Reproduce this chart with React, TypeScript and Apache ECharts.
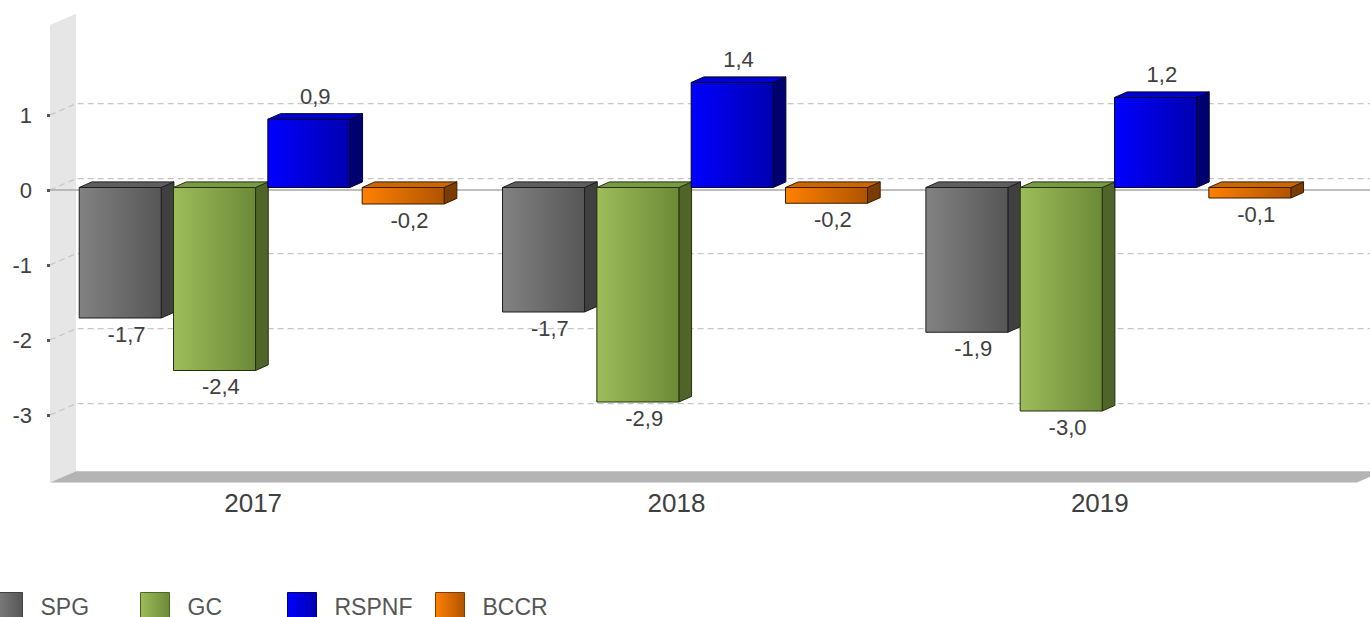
import React, { useEffect, useRef } from "react";
import * as echarts from "echarts";

const categories = ["2017", "2018", "2019"];
const seriesNames = ["SPG", "GC", "RSPNF", "BCCR"];
const spgValues = [-1.74, -1.66, -1.93];
const gcValues = [-2.44, -2.86, -2.98];
const rspnfValues = [0.91, 1.4, 1.2];
const bccrValues = [-0.22, -0.21, -0.14];
const yTicks = [-3, -2, -1, 0, 1];

const palette = [
  { l: "#828282", r: "#565656", top: "#5e5e5e", side: "#404040", stroke: "#1e1e1e" },
  { l: "#9dbc5a", r: "#6c8a36", top: "#789a42", side: "#4f6428", stroke: "#26300f" },
  { l: "#0000ff", r: "#0000b0", top: "#0000d0", side: "#000070", stroke: "#000030" },
  { l: "#ff8000", r: "#b05400", top: "#cc6600", side: "#7a3c00", stroke: "#3a1c00" },
];

const grad = (a: string, b: string) => ({
  type: "linear",
  x: 0,
  y: 0,
  x2: 1,
  y2: 0,
  colorStops: [
    { offset: 0, color: a },
    { offset: 1, color: b },
  ],
});

const WALL_DX = 26;
const WALL_DY = -11.3;
const BAR_DX = 12.7;
const BAR_DY = -5.6;

export default function App() {
  const ref = useRef<HTMLDivElement>(null);
  useEffect(() => {
    document.body.style.margin = "0";
    if (!ref.current) return;
    const chart = echarts.init(ref.current, undefined, { renderer: "svg" });
    const allValues = [spgValues, gcValues, rspnfValues, bccrValues];

    const decoSeries: any = {
      type: "custom",
      name: "__deco",
      silent: true,
      clip: false,
      z: 1,
      data: [[0, 0]],
      encode: { x: 0, y: 1 },
      renderItem: (params: any, api: any) => {
        const cs = params.coordSys;
        const x0 = cs.x;
        const yTop = cs.y;
        const yBot = cs.y + cs.height;
        const xR = cs.x + cs.width + 37;
        const yv = (v: number) => api.coord([0, v])[1];
        const children: any[] = [];
        children.push({
          type: "polygon",
          shape: {
            points: [
              [x0, yTop],
              [x0 + WALL_DX, yTop + WALL_DY],
              [x0 + WALL_DX, yBot + WALL_DY],
              [x0, yBot],
            ],
          },
          style: { fill: "#e6e6e6" },
        });
        children.push({
          type: "polygon",
          shape: {
            points: [
              [x0, yBot],
              [xR, yBot],
              [xR + WALL_DX, yBot + WALL_DY],
              [x0 + WALL_DX, yBot + WALL_DY],
            ],
          },
          style: { fill: "#b4b4b4" },
        });
        yTicks.forEach((t) => {
          const y = yv(t);
          children.push({
            type: "polyline",
            shape: {
              points: [
                [x0, y],
                [x0 + WALL_DX, y + WALL_DY],
                [1372, y + WALL_DY],
              ],
            },
            style: { stroke: "#c6c6c6", lineWidth: 1.3, lineDash: [6, 4], fill: null },
          });
        });
        children.push({
          type: "line",
          shape: { x1: x0, y1: yv(0), x2: 1372, y2: yv(0) },
          style: { stroke: "#a8a8a8", lineWidth: 1.5 },
        });
        return { type: "group", children };
      },
    };

    const barSeries = allValues.map((vals, s) => {
      const p = palette[s];
      return {
        type: "custom",
        name: seriesNames[s],
        clip: false,
        z: 2 + s,
        itemStyle: { color: p.l },
        data: vals.map((v, i) => [i, v]),
        encode: { x: 0, y: 1 },
        renderItem: (params: any, api: any) => {
          const cat = api.value(0);
          const v = api.value(1);
          const c = api.coord([cat, 0]);
          const band = api.size([1, 0])[0];
          const w = 0.1937 * band;
          const left = c[0] - 0.431 * band + s * 0.2228 * band;
          const yz = c[1] - 2.5;
          const yvv = api.coord([cat, v])[1] - 2.5;
          const top = Math.min(yz, yvv);
          const bottom = Math.max(yz, yvv);
          const label = v.toFixed(1).replace(".", ",");
          const cx = left + w / 2 + BAR_DX / 2;
          return {
            type: "group",
            children: [
              {
                type: "polygon",
                shape: {
                  points: [
                    [left + w, top],
                    [left + w + BAR_DX, top + BAR_DY],
                    [left + w + BAR_DX, bottom + BAR_DY],
                    [left + w, bottom],
                  ],
                },
                style: { fill: p.side, stroke: p.stroke, lineWidth: 1 },
              },
              {
                type: "polygon",
                shape: {
                  points: [
                    [left, top],
                    [left + BAR_DX, top + BAR_DY],
                    [left + w + BAR_DX, top + BAR_DY],
                    [left + w, top],
                  ],
                },
                style: { fill: p.top, stroke: p.stroke, lineWidth: 1 },
              },
              {
                type: "rect",
                shape: { x: left, y: top, width: w, height: bottom - top },
                style: { fill: grad(p.l, p.r), stroke: p.stroke, lineWidth: 1 },
              },
              {
                type: "text",
                style: {
                  text: label,
                  x: cx,
                  y: v >= 0 ? top + BAR_DY - 6 : bottom + 5,
                  align: "center",
                  verticalAlign: v >= 0 ? "bottom" : "top",
                  fontSize: 22,
                  fontFamily: "Liberation Sans, Arial, sans-serif",
                  fill: "#404040",
                },
              },
            ],
          };
        },
      };
    });

    const legendLefts = [-12, 135, 282, 430];
    const legends = seriesNames.map((n, s) => ({
      left: legendLefts[s],
      top: 587,
      orient: "horizontal",
      icon: "rect",
      itemWidth: 29,
      itemHeight: 29,
      selectedMode: false,
      data: [
        {
          name: n,
          itemStyle: {
            color: grad(palette[s].l, palette[s].r),
            borderColor: palette[s].side,
            borderWidth: 1,
          },
        },
      ],
      textStyle: {
        fontSize: 23,
        lineHeight: 19,
        color: "#555555",
        padding: [0, 0, 0, 13],
        fontFamily: "Liberation Sans, Arial, sans-serif",
      },
    }));

    chart.setOption({
      animation: false,
      textStyle: { fontFamily: "Liberation Sans, Arial, sans-serif" },
      legend: legends,
      grid: { left: 50, top: 25, right: 50, bottom: 134.5, containLabel: false },
      xAxis: {
        type: "category",
        data: categories,
        axisLine: { show: false },
        axisTick: { show: false },
        splitLine: { show: false },
        axisLabel: {
          fontSize: 26,
          color: "#404040",
          margin: 7,
          padding: [0, 17, 0, 0],
        },
      },
      yAxis: {
        type: "value",
        min: -3.9,
        max: 2.2,
        axisLine: { show: false },
        splitLine: { show: false },
        axisTick: {
          show: true,
          length: 3,
          customValues: yTicks,
          lineStyle: { color: "#555555", width: 3 },
        },
        axisLabel: {
          customValues: yTicks,
          fontSize: 22,
          color: "#404040",
          margin: 18,
        },
      },
      series: [decoSeries, ...barSeries],
    });
    return () => chart.dispose();
  }, []);
  return <div ref={ref} style={{ width: 1370, height: 617 }} />;
}
